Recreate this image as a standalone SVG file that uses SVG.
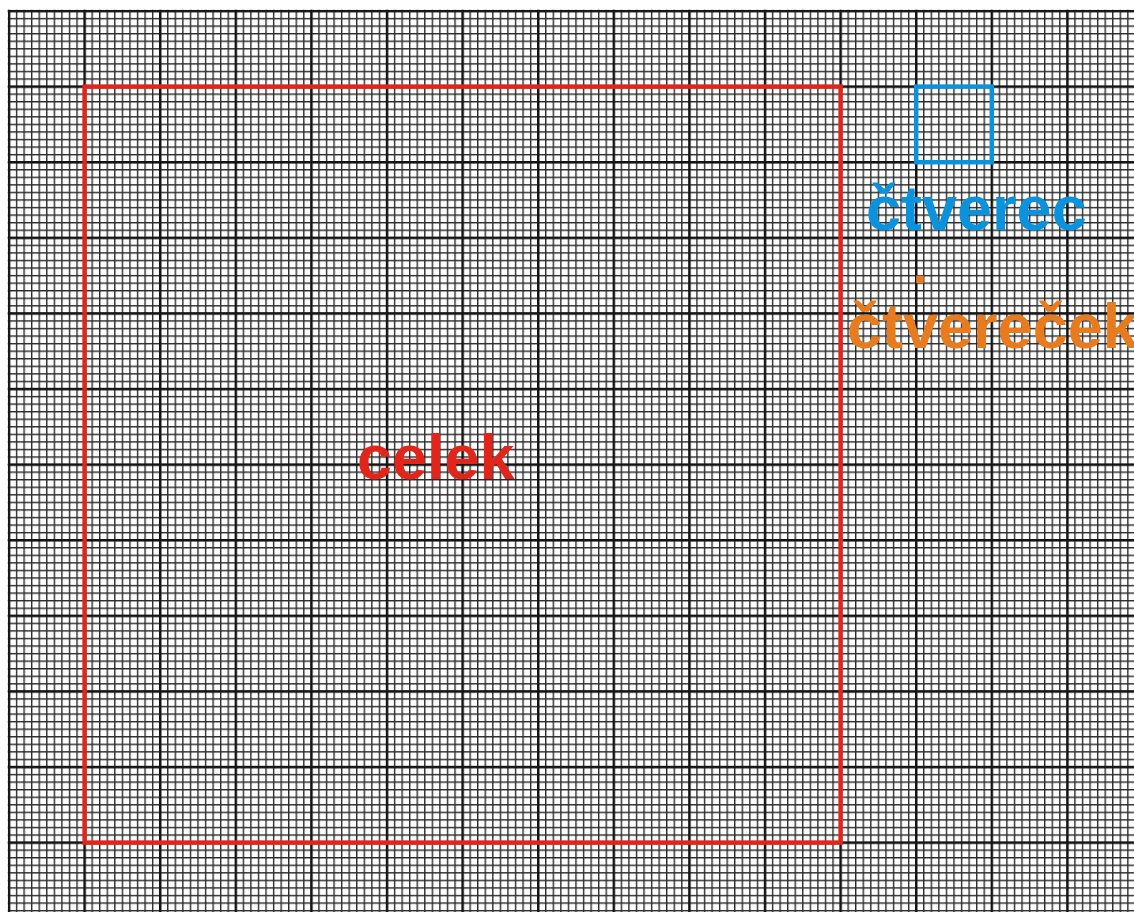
<svg xmlns="http://www.w3.org/2000/svg" width="1134" height="912" viewBox="0 0 1134 912">
  <style>
    .lbl { font-family: "Liberation Sans", Arial, sans-serif; font-weight: bold; font-size: 63px; }
    .frame { fill: none; stroke-width: 4.5; }
  </style>
  <defs>
    <pattern id="minor" x="8.3" y="10.3" width="7.56" height="7.56" patternUnits="userSpaceOnUse">
      <path d="M0 0.7H7.56M0.7 0V7.56" stroke="#2a2a2a" stroke-width="1.4" fill="none"/>
    </pattern>
    <pattern id="major" x="7.8" y="9.8" width="75.6" height="75.6" patternUnits="userSpaceOnUse">
      <path d="M0 1.2H75.6M1.2 0V75.6" stroke="#141414" stroke-width="2.4" fill="none"/>
    </pattern>
  </defs>
  <rect width="1134" height="912" fill="#ffffff"/>
  <g id="grid">
    <rect x="7.8" y="9.8" width="1126.2" height="902.2" fill="url(#minor)"/>
    <rect x="7.8" y="9.8" width="1126.2" height="902.2" fill="url(#major)"/>
  </g>
  <g id="celek">
    <rect class="frame" x="84.6" y="86.6" width="756" height="756" stroke="#e1251b"/>
    <text class="lbl" x="357" y="479" fill="#e1251b">celek</text>
  </g>
  <g id="ctverec">
    <rect class="frame" x="916.2" y="86.6" width="75.6" height="75.6" stroke="#0a93dc"/>
    <text class="lbl" x="866" y="230" fill="#0a93dc">čtverec</text>
  </g>
  <g id="ctverecek">
    <rect x="916.2" y="275.6" width="7.56" height="7.56" fill="#e87b1e"/>
    <text class="lbl" x="847" y="348" fill="#e87b1e">čtvereček</text>
  </g>
  <g id="connectors"/>
</svg>
